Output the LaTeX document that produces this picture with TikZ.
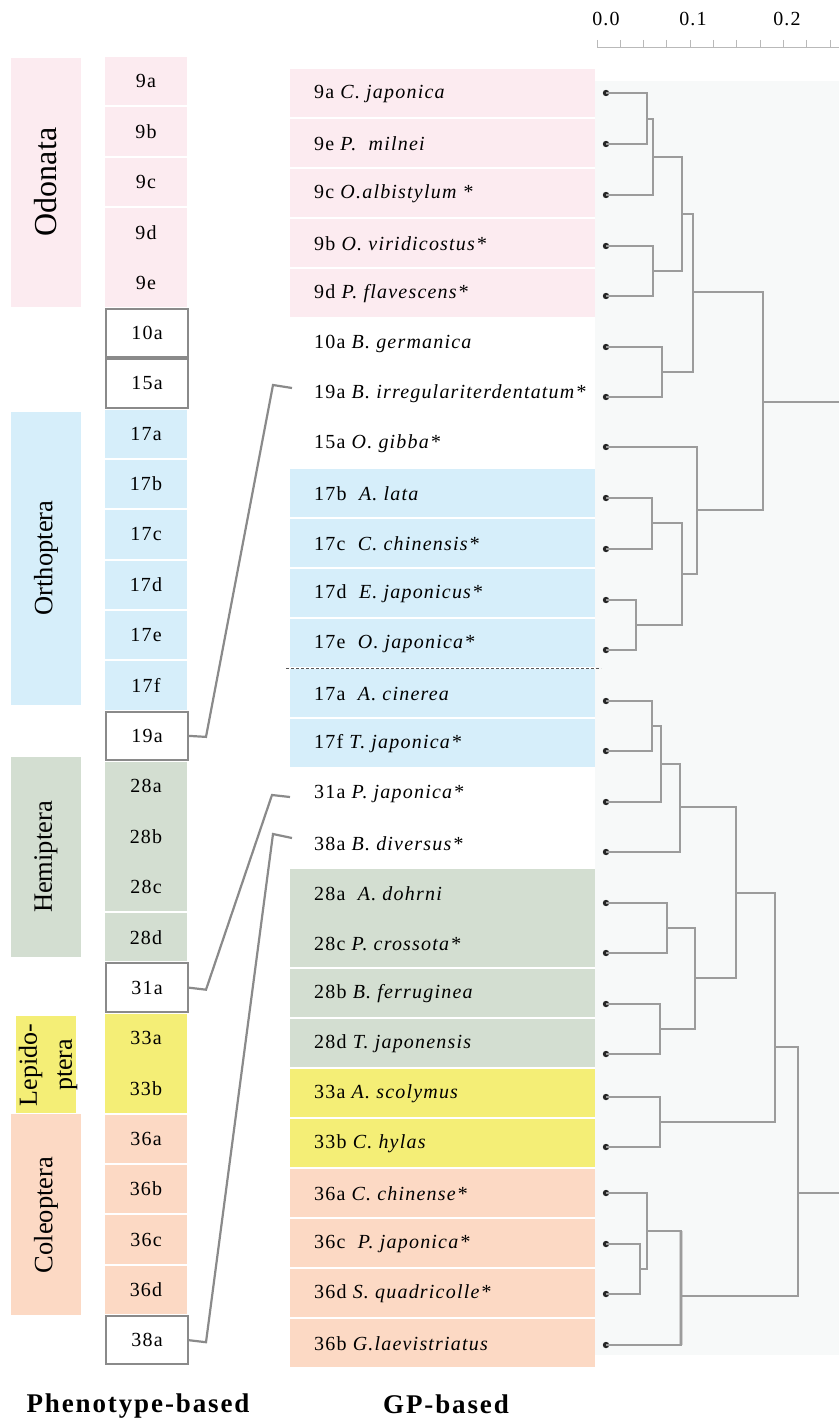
\documentclass[tikz,border=0pt]{standalone}
\usepackage{fontspec}
\setmainfont{Liberation Serif}[LetterSpace=6]
\newfontfamily\orderfont{Liberation Serif}
\newfontfamily\titlefont{Liberation Serif}[LetterSpace=7]
\usetikzlibrary{positioning}

\definecolor{odo}{HTML}{FCEBF0}
\definecolor{ort}{HTML}{D6EEFA}
\definecolor{hem}{HTML}{D3DED1}
\definecolor{lep}{HTML}{F4EE76}
\definecolor{col}{HTML}{FCD9C4}
\definecolor{treebg}{HTML}{F7F9F9}
\definecolor{branchc}{HTML}{9C9C9C}
\definecolor{framec}{HTML}{8A8A8A}

\begin{document}
\begin{tikzpicture}[x=1pt,y=-1pt,
    row/.style={font=\fontsize{20}{22}\selectfont},
    phen/.style={row,minimum width=82,minimum height=48.4,inner sep=0},
    open/.style={phen,draw=framec,line width=2,fill=white},
    gp/.style={row,anchor=west,inner sep=0},
    order/.style={rotate=90,font=\orderfont\fontsize{26.5}{35}\selectfont,align=center},
    branch/.style={draw=branchc,line width=1.3},
    link/.style={draw=framec,line width=2.2,line join=miter},
    title/.style={font=\titlefont\bfseries\fontsize{27}{30}\selectfont}]
  \useasboundingbox (0,0) rectangle (839,1423);

  % order bars
  \fill[odo] (11,58) rectangle (81,307);
  \fill[ort] (11,412) rectangle (81,705);
  \fill[hem] (11,757) rectangle (81,957);
  \fill[lep] (16,1016) rectangle (76,1113);
  \fill[col] (11,1114) rectangle (81,1315);
  \node[order,font=\orderfont\fontsize{32}{35}\selectfont] (odonata) at (46,182) {Odonata};
  \node[order] (orthoptera) at (46,558) {Orthoptera};
  \node[order] (hemiptera) at (46,857) {Hemiptera};
  \node[order,font=\orderfont\fontsize{26}{35}\selectfont] (lepidoptera) at (48,1065) {Lepido-\\ptera};
  \node[order] (coleoptera) at (46,1215) {Coleoptera};

  % phenotype-based column
  \foreach \i/\n/\c in {0/1/odo,1/1/odo,2/1/odo,3/2/odo,7/1/ort,8/1/ort,9/1/ort,
      10/1/ort,11/1/ort,12/1/ort,14/3/hem,17/1/hem,19/2/lep,21/1/col,22/1/col,
      23/1/col,24/1/col}
    \fill[\c] (105,57+50.36*\i) rectangle (187,57+50.36*\i+50.36*\n-2);
  \foreach \i/\lab in {0/9a,1/9b,2/9c,3/9d,4/9e,7/17a,8/17b,9/17c,10/17d,11/17e,
      12/17f,14/28a,15/28b,16/28c,17/28d,19/33a,20/33b,21/36a,22/36b,23/36c,24/36d}
    \node[phen] (p\lab) at (146,81.2+50.36*\i) {\lab};
  \foreach \i/\lab in {5/10a,6/15a,13/19a,18/31a,25/38a}
    \node[open] (p\lab) at (147,81.2+50.36*\i) {\lab};

  % dendrogram background
  \fill[treebg] (595,81) rectangle (839,1355);

  % GP-based column
  \foreach \i/\n/\c in {0/1/odo,1/1/odo,2/1/odo,3/1/odo,4/1/odo,8/1/ort,9/1/ort,
      10/1/ort,11/1/ort,12/1/ort,13/1/ort,16/2/hem,18/1/hem,19/1/hem,20/1/lep,
      21/1/lep,22/1/col,23/1/col,24/1/col,25/1/col}
    \fill[\c] (290,69+50*\i) rectangle (595,69+50*\i+50*\n-2);
  \draw[densely dashed,gray!70!black,line width=1] (286,668) -- (601,668);
  \foreach \i/\txt in {0/{9a \textit{C. japonica}},1/{9e \textit{P.\ \ milnei}},
      2/{9c \textit{O.albistylum\ *}},3/{9b \textit{O. viridicostus*}},
      4/{9d \textit{P. flavescens*}},5/{10a \textit{B. germanica}},
      6/{19a \textit{B. irregulariterdentatum*}},7/{15a \textit{O. gibba*}},
      8/{17b\ \ \textit{A. lata}},9/{17c\ \ \textit{C. chinensis*}},
      10/{17d\ \ \textit{E. japonicus*}},11/{17e\ \ \textit{O. japonica*}},
      12/{17a\ \ \textit{A. cinerea}},13/{17f \textit{T. japonica*}},
      14/{31a \textit{P. japonica*}},15/{38a \textit{B. diversus*}},
      16/{28a\ \ \textit{A. dohrni}},17/{28c \textit{P. crossota*}},
      18/{28b \textit{B. ferruginea}},19/{28d \textit{T. japonensis}},
      20/{33a \textit{A. scolymus}},21/{33b \textit{C. hylas}},
      22/{36a \textit{C. chinense*}},23/{36c\ \ \textit{P. japonica*}},
      24/{36d \textit{S. quadricolle*}},25/{36b \textit{G.laevistriatus}}}
    \node[gp] (g\i) at (314,94+50*\i) {\txt};

  % links from phenotype boxes
  \coordinate (k19a) at (273,385);  \coordinate (e19a) at (292,388);
  \coordinate (k31a) at (272,795);  \coordinate (e31a) at (290,797);
  \coordinate (k38a) at (273,834);  \coordinate (e38a) at (292,838);
  \draw[link] (p19a.east) -- ++(17,1) -- (k19a) -- (e19a);
  \draw[link] (p31a.east) -- ++(17,2) -- (k31a) -- (e31a);
  \draw[link] (p38a.east) -- ++(17,2) -- (k38a) -- (e38a);

  % scale
  \draw[gray!55,line width=1] (597,48) -- (839,48);
  \foreach \k in {0,...,10}
    \draw[gray!55,line width=1] (597+23.3*\k,40) -- ++(0,8);
  \node[row] (s0) at (606,19) {0.0};
  \node[row] (s1) at (693,19) {0.1};
  \node[row] (s2) at (787,19) {0.2};

  % leaves
  \foreach \y [count=\k] in {93,144,195,246,296,347,397,447,498,549,600,650,701,
      751,802,852,903,953,1004,1054,1097,1147,1193,1244,1294,1345} {
    \coordinate (l\k) at (606,\y);
    \fill[black!85] (l\k) circle (3.2);
  }

  % inner nodes
  \coordinate (nA) at (647,119);  \coordinate (nB) at (653,157);
  \coordinate (nC) at (653,271);  \coordinate (nD) at (682,214);
  \coordinate (nE) at (662,372);  \coordinate (nF) at (693,292);
  \coordinate (nG) at (652,523);  \coordinate (nH) at (636,625);
  \coordinate (nI) at (682,574);  \coordinate (nJ) at (697,510);
  \coordinate (nK) at (763,402);  \coordinate (nL) at (652,726);
  \coordinate (nM) at (661,764);  \coordinate (nN) at (680,807);
  \coordinate (nO) at (667,928);  \coordinate (nP) at (660,1029);
  \coordinate (nQ) at (695,978);  \coordinate (nR) at (736,893);
  \coordinate (nS) at (660,1122); \coordinate (nT) at (775,1047);
  \coordinate (nV) at (640,1269); \coordinate (nU) at (647,1231);
  \coordinate (nW) at (681,1296); \coordinate (nX) at (798,1193);
  \coordinate (root1) at (839,402); \coordinate (root2) at (839,1193);

  \draw[draw=gray!35,line width=4] (nU -| nW) -- (l26 -| nW);
  \draw[branch] (l1) -| (nA) |- (l2);
  \draw[branch] (nA) -| (nB) |- (l3);
  \draw[branch] (l4) -| (nC) |- (l5);
  \draw[branch] (nB) -| (nD) |- (nC);
  \draw[branch] (l6) -| (nE) |- (l7);
  \draw[branch] (nD) -| (nF) |- (nE);
  \draw[branch] (l9) -| (nG) |- (l10);
  \draw[branch] (l11) -| (nH) |- (l12);
  \draw[branch] (nG) -| (nI) |- (nH);
  \draw[branch] (l8) -| (nJ) |- (nI);
  \draw[branch] (nF) -| (nK) |- (nJ);
  \draw[branch] (nK) -- (root1);
  \draw[branch] (l13) -| (nL) |- (l14);
  \draw[branch] (nL) -| (nM) |- (l15);
  \draw[branch] (nM) -| (nN) |- (l16);
  \draw[branch] (l17) -| (nO) |- (l18);
  \draw[branch] (l19) -| (nP) |- (l20);
  \draw[branch] (nO) -| (nQ) |- (nP);
  \draw[branch] (nN) -| (nR) |- (nQ);
  \draw[branch] (l21) -| (nS) |- (l22);
  \draw[branch] (nR) -| (nT) |- (nS);
  \draw[branch] (l24) -| (nV) |- (l25);
  \draw[branch] (l23) -| (nU) |- (nV);
  \draw[branch] (nU) -| (nW) |- (l26);
  \draw[branch] (nT) -| (nX) |- (nW);
  \draw[branch] (nX) -- (root2);

  % titles
  \node[title] (phenotitle) at (138,1406) {Phenotype-based};
  \node[title] (gptitle) at (446,1404) {GP-based};
\end{tikzpicture}
\end{document}
